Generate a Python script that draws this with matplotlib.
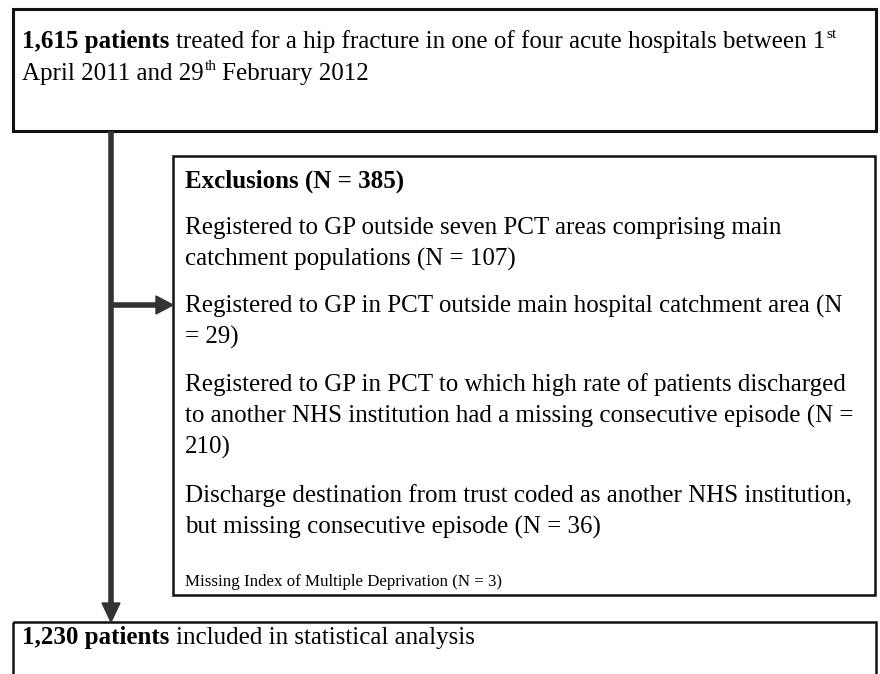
import matplotlib
matplotlib.use("Agg")
import matplotlib.pyplot as plt
from matplotlib.patches import Rectangle, Polygon

FONT = ["Liberation Serif", "DejaVu Serif"]

# text content of the flow chart
top_lines = [
    [("1,615 patients", "bold"), (" treated for a hip fracture in one of four acute hospitals between 1", "normal"), ("st", "sup")],
    [("April 2011 and 29", "normal"), ("th", "sup"), (" February 2012", "normal")],
]
excl_title = "Exclusions (N = 385)"
excl_items = [
    ["Registered to GP outside seven PCT areas comprising main", "catchment populations (N = 107)"],
    ["Registered to GP in PCT outside main hospital catchment area (N", "= 29)"],
    ["Registered to GP in PCT to which high rate of patients discharged",
     "to another NHS institution had a missing consecutive episode (N =", "210)"],
    ["Discharge destination from trust coded as another NHS institution,",
     "but missing consecutive episode (N = 36)"],
]
excl_last = "Missing Index of Multiple Deprivation (N = 3)"
bottom_line = [("1,230 patients", "bold"), (" included in statistical analysis", "normal")]

FS = 18
FS_SMALL = 12.2
FS_SUP = 11

fig = plt.figure(figsize=(8.8, 6.74), dpi=100)
ax = fig.add_axes([0, 0, 1, 1])
ax.set_xlim(0, 880)
ax.set_ylim(674, 0)
ax.axis("off")
rend = fig.canvas.get_renderer()


def put_run(x, y, parts):
    # draw pieces one after another on one baseline
    for s, kind in parts:
        if kind == "sup":
            t = ax.text(x + 1, y - 10, s, fontsize=FS_SUP, family=FONT, va="baseline")
        else:
            lead = len(s) - len(s.lstrip(" "))
            if lead:
                sp = ax.text(0, 0, "x x", fontsize=FS, family=FONT, fontweight=kind)
                nsp = ax.text(0, 0, "xx", fontsize=FS, family=FONT, fontweight=kind)
                x += lead * (sp.get_window_extent(rend).width - nsp.get_window_extent(rend).width)
                sp.remove()
                nsp.remove()
            t = ax.text(x, y, s.lstrip(" "), fontsize=FS, family=FONT, fontweight=kind, va="baseline")
        x += t.get_window_extent(rend).width


# boxes
ax.add_patch(Rectangle((13, 9), 863, 122, fill=False, lw=2.2, ec="#111111"))
ax.add_patch(Rectangle((173, 156), 702, 439, fill=False, lw=1.8, ec="#111111"))
ax.add_patch(Rectangle((13, 622), 863, 90, fill=False, lw=1.8, ec="#111111", clip_on=False))

# arrows
ac = "#333333"
ax.plot([111, 111], [131, 604], color=ac, lw=4, solid_capstyle="butt")
ax.add_patch(Polygon([[102, 603], [120, 603], [111, 622]], closed=True, color=ac))
ax.plot([111, 157], [305, 305], color=ac, lw=4, solid_capstyle="butt")
ax.add_patch(Polygon([[156, 296], [156, 314], [173, 305]], closed=True, color=ac))

# top box text
put_run(22, 48, top_lines[0])
put_run(22, 80, top_lines[1])

# exclusions box text
ax.text(185, 188, excl_title, fontsize=FS, family=FONT, fontweight="bold", va="baseline")
ys = [[234, 266], [313, 344], [391, 423, 454], [502, 534]]
for lines, yy in zip(excl_items, ys):
    for s, y in zip(lines, yy):
        ax.text(185, y, s, fontsize=FS, family=FONT, va="baseline")
ax.text(185, 586, excl_last, fontsize=FS_SMALL, family=FONT, va="baseline")

# bottom box text
put_run(22, 644, bottom_line)

fig.savefig("out.png", dpi=100)
